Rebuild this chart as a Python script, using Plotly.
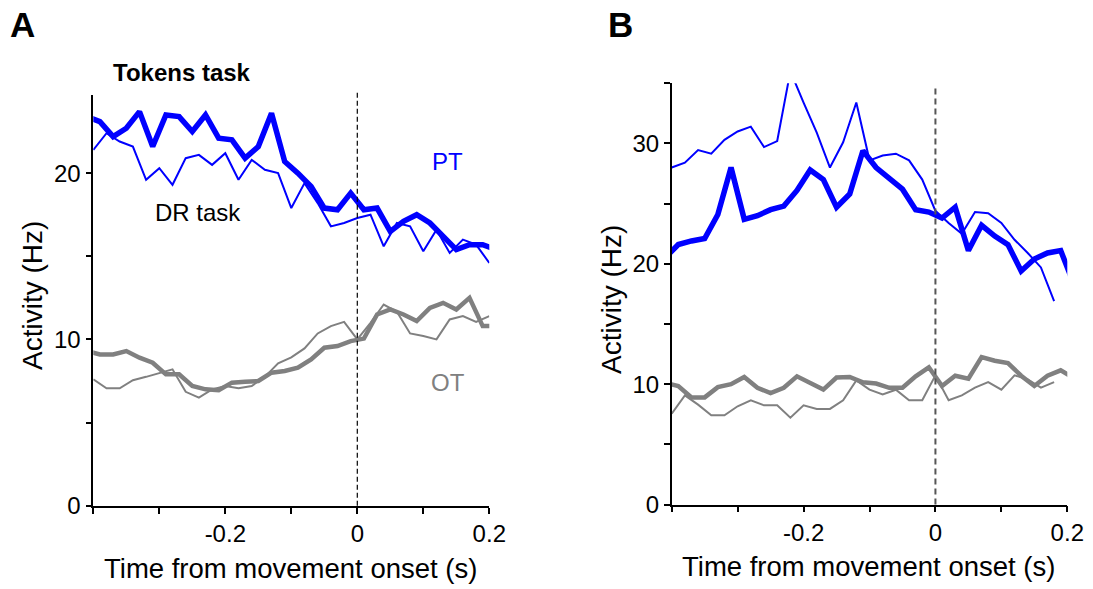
import plotly.graph_objects as go

W, H = 1093, 589
FONT = "Liberation Sans, Arial, Helvetica, sans-serif"
BLUE = "#0000ff"
GREY = "#808080"

# ---------------- data ----------------
# time bins (s) for the thick (Tokens task) traces and the thin (DR task) traces
t_thick = [-0.41, -0.39, -0.37, -0.35, -0.33, -0.31, -0.29, -0.27, -0.25, -0.23, -0.21,
           -0.19, -0.17, -0.15, -0.13, -0.11, -0.09, -0.07, -0.05, -0.03, -0.01,
           0.01, 0.03, 0.05, 0.07, 0.09, 0.11, 0.13, 0.15, 0.17, 0.19, 0.21]
t_thin_a = [-0.40, -0.38, -0.36, -0.34, -0.32, -0.30, -0.28, -0.26, -0.24, -0.22, -0.20,
            -0.18, -0.16, -0.14, -0.12, -0.10, -0.08, -0.06, -0.04, -0.02, 0.00,
            0.02, 0.04, 0.06, 0.08, 0.10, 0.12, 0.14, 0.16, 0.18, 0.20]
t_thin_b = [-0.40, -0.38, -0.36, -0.34, -0.32, -0.30, -0.28, -0.26, -0.24, -0.22, -0.20,
            -0.18, -0.16, -0.14, -0.12, -0.10, -0.08, -0.06, -0.04, -0.02, 0.00,
            0.02, 0.04, 0.06, 0.08, 0.10, 0.12, 0.14, 0.16, 0.18]

# Panel A
a_pt_tokens = [23.4, 23.1, 22.2, 22.7, 23.7, 21.6, 23.5, 23.4, 22.5, 23.5, 22.1, 22.0, 20.9,
               21.6, 23.6, 20.7, 20.0, 19.2, 17.9, 17.8, 18.8, 17.8, 17.9, 16.5, 17.1, 17.5,
               17.0, 16.2, 15.4, 15.7, 15.7, 15.4]
a_pt_dr = [21.4, 22.4, 21.9, 21.6, 19.6, 20.3, 19.3, 20.9, 21.1, 20.5, 21.2, 19.6, 20.8, 20.2,
           20.0, 17.9, 19.4, 18.2, 16.8, 17.0, 17.3, 17.5, 15.6, 17.0, 16.8, 15.3, 16.6, 15.2,
           16.0, 15.7, 14.6]
a_ot_tokens = [9.3, 9.1, 9.1, 9.3, 8.9, 8.6, 7.9, 7.9, 7.2, 7.0, 6.95, 7.4, 7.45, 7.5, 8.0,
               8.1, 8.3, 8.8, 9.5, 9.6, 9.9, 10.05, 11.5, 11.8, 11.5, 11.1, 11.9, 12.2, 11.8,
               12.5, 10.8, 10.8]
a_ot_dr = [7.6, 7.06, 7.06, 7.55, 7.75, 7.96, 8.2, 6.85, 6.5, 7.0, 7.2, 7.06, 7.2, 7.75, 8.56,
           8.92, 9.46, 10.36, 10.8, 11.06, 10.0, 11.0, 12.1, 11.66, 10.36, 10.2, 10.0, 11.2,
           11.4, 11.06, 11.4]

# Panel B
b_pt_tokens = [20.5, 21.6, 21.9, 22.1, 24.1, 28.0, 23.7, 24.0, 24.5, 24.8, 26.1, 27.8, 27.0,
               24.7, 25.8, 29.4, 28.0, 27.1, 26.2, 24.5, 24.3, 23.8, 24.7, 21.1, 23.2, 22.3,
               21.6, 19.4, 20.4, 20.9, 21.1, 18.3]
b_pt_dr = [28.0, 28.4, 29.45, 29.15, 30.3, 31.0, 31.4, 29.7, 30.2, 36.0, 33.4, 30.9, 28.0,
           30.1, 33.4, 28.6, 29.0, 29.15, 28.6, 27.0, 24.4, 23.4, 22.5, 24.3, 24.2, 23.4,
           22.0, 20.9, 19.7, 16.9]
b_ot_tokens = [10.1, 9.85, 8.9, 8.9, 9.75, 10.0, 10.6, 9.7, 9.25, 9.7, 10.65, 10.05, 9.55,
               10.55, 10.6, 10.15, 10.05, 9.7, 9.7, 10.65, 11.4, 9.85, 10.7, 10.45, 12.25,
               11.95, 11.75, 10.7, 9.85, 10.7, 11.15, 10.5]
b_ot_dr = [7.55, 9.07, 8.3, 7.41, 7.41, 8.16, 8.66, 8.24, 8.24, 7.22, 8.24, 7.94, 7.94, 8.66,
           10.31, 9.54, 9.15, 9.54, 8.66, 8.66, 10.73, 8.66, 9.07, 9.71, 10.17, 9.54, 10.73,
           10.4, 9.71, 10.17]

# axis ticks
x_tickvals = [-0.4, -0.3, -0.2, -0.1, 0.0, 0.1, 0.2]
x_ticktext = ["", "", "-0.2", "", "0", "", "0.2"]
ya_tickvals = [0, 5, 10, 15, 20]
ya_ticktext = ["0", "", "10", "", "20"]
yb_tickvals = [0, 5, 10, 15, 20, 25, 30, 35]
yb_ticktext = ["0", "", "10", "", "20", "", "30", ""]

# ---------------- figure ----------------
def px_x(p):
    return p / W

def px_y(p):
    return 1 - p / H

fig = go.Figure()

def add_line(x, y, xa, ya, color, width):
    fig.add_trace(go.Scatter(x=x, y=y, xaxis=xa, yaxis=ya, mode="lines",
                             line=dict(color=color, width=width),
                             hoverinfo="skip", showlegend=False))

# Panel A
add_line(t_thin_a, a_ot_dr, "x", "y", GREY, 2)
add_line(t_thick, a_ot_tokens, "x", "y", GREY, 4.5)
add_line(t_thin_a, a_pt_dr, "x", "y", BLUE, 2)
add_line(t_thick, a_pt_tokens, "x", "y", BLUE, 5.5)
# Panel B
add_line(t_thin_b, b_ot_dr, "x2", "y2", GREY, 2)
add_line(t_thick, b_ot_tokens, "x2", "y2", GREY, 4.5)
add_line(t_thin_b, b_pt_dr, "x2", "y2", BLUE, 2)
add_line(t_thick, b_pt_tokens, "x2", "y2", BLUE, 5.5)

axis_common = dict(showline=True, linecolor="black", linewidth=1.6, ticks="outside",
                   ticklen=6, tickwidth=1.5, tickcolor="black", showgrid=False,
                   zeroline=False, mirror=False, automargin=False,
                   tickfont=dict(family=FONT, size=24, color="black"))

fig.update_layout(
    width=W, height=H,
    margin=dict(l=0, r=0, t=0, b=0),
    paper_bgcolor="white", plot_bgcolor="white",
    showlegend=False,
    font=dict(family=FONT, color="black"),
    xaxis=dict(domain=[px_x(93.3), px_x(489.3)], range=[-0.4, 0.2], anchor="y",
               tickvals=x_tickvals, ticktext=x_ticktext, **axis_common),
    yaxis=dict(domain=[px_y(505.7), px_y(95)], range=[0, 24.7], anchor="x",
               tickvals=ya_tickvals, ticktext=ya_ticktext, **axis_common),
    xaxis2=dict(domain=[px_x(671.7), px_x(1067.3)], range=[-0.4, 0.2], anchor="y2",
                tickvals=x_tickvals, ticktext=x_ticktext, **axis_common),
    yaxis2=dict(domain=[px_y(504.5), px_y(83.3)], range=[0, 35], anchor="x2",
                tickvals=yb_tickvals, ticktext=yb_ticktext, **axis_common),
)

# movement-onset dashed lines
fig.add_shape(type="line", xref="x", yref="y domain", x0=0, x1=0, y0=0, y1=1.01,
              line=dict(color="black", width=1.2, dash="5px,3px"))
fig.add_shape(type="line", xref="x2", yref="y2 domain", x0=0, x1=0, y0=0, y1=0.99,
              line=dict(color="#555555", width=2, dash="6px,4px"))

def label(text, x, y, size, color="black", bold=False, angle=0):
    fig.add_annotation(text=f"<b>{text}</b>" if bold else text,
                       x=px_x(x), y=px_y(y), xref="paper", yref="paper",
                       xanchor="center", yanchor="middle", showarrow=False,
                       textangle=angle,
                       font=dict(family=FONT, size=size, color=color))

label("A", 22, 25, 35, bold=True)
label("B", 620, 25, 35, bold=True)
label("Tokens task", 182, 73, 24, bold=True)
label("PT", 447, 162, 24, color=BLUE)
label("DR task", 198, 212, 24)
label("OT", 448, 382, 24, color=GREY)
label("Time from movement onset (s)", 290, 568, 27.5)
label("Time from movement onset (s)", 868, 566, 27.5)
label("Activity (Hz)", 32, 296, 28, angle=-90)
label("Activity (Hz)", 611, 300, 28, angle=-90)

fig.write_html("out.html")
